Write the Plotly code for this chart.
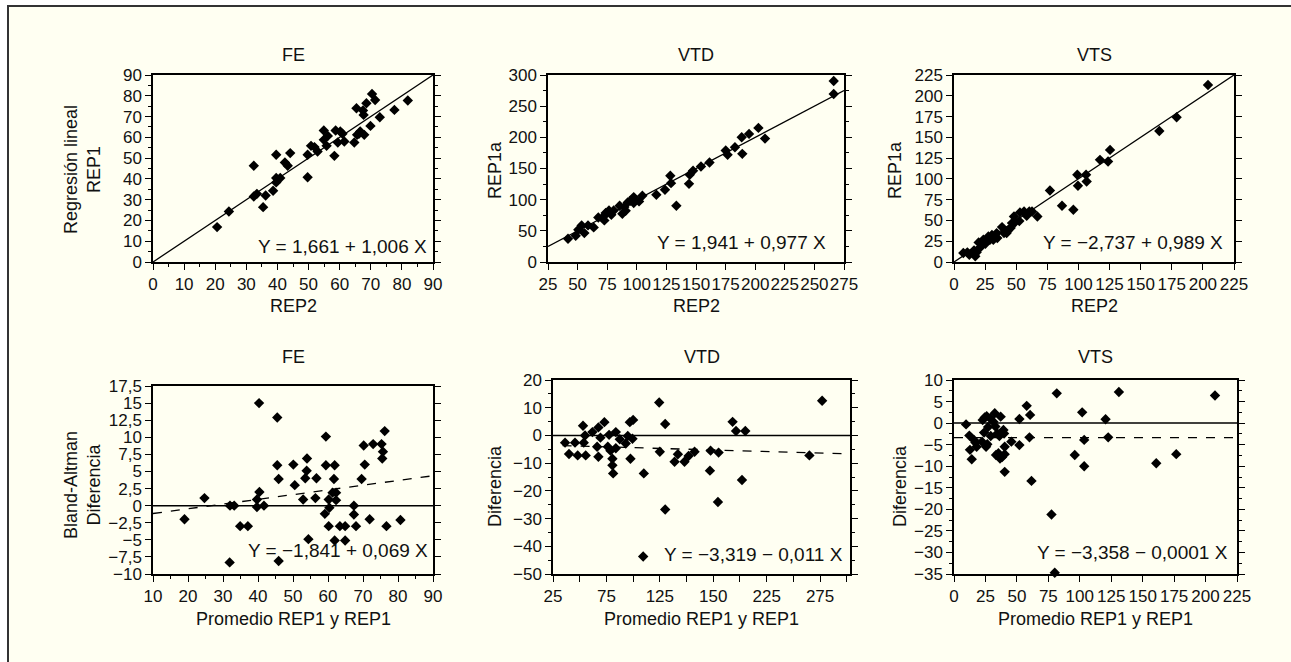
import plotly.graph_objects as go

# ---------------- DATA ----------------
# Top row: regression REP1 vs REP2
fe_rep2 = [20.6, 24.4, 32.4, 32.4, 33.4, 35.4, 36.2, 38.6, 39.6, 39.6, 39.6, 40.9, 42.4, 43.3, 44.1,
           49.7, 49.7, 50.8, 51.9, 52.9, 54.9, 54.9, 55.8, 56.2, 58.3, 58.7, 59.4, 60.2, 60.9, 61.5,
           64.7, 65.4, 65.6, 66.2, 66.6, 67.5, 67.7, 67.9, 68.6, 69.9, 70.4, 71.4, 72.9, 77.6, 81.9]
fe_rep1 = [16.8, 24.3, 31.5, 46.3, 32.8, 26.4, 32.0, 34.3, 51.6, 38.3, 40.4, 40.4, 47.9, 46.3, 52.4,
           40.8, 51.6, 55.9, 55.3, 53.2, 58.8, 63.3, 55.9, 60.7, 51.1, 63.3, 57.5, 62.8, 61.7, 58.0,
           57.5, 74.0, 61.2, 61.7, 62.8, 72.9, 70.8, 61.2, 76.4, 65.5, 80.9, 78.0, 69.7, 73.2, 77.7]

vtd_rep2 = [41.9, 48.4, 50.6, 53.4, 55.7, 58.8, 63.6, 67.5, 72.0, 72.6, 73.7, 76.5, 78.5, 80.5,
            85.5, 87.8, 89.5, 90.6, 92.3, 94.5, 97.4, 97.4, 101.9, 104.7, 116.5, 123.8, 128.3,
            128.9, 133.4, 144.1, 144.7, 147.5, 154.2, 161.4, 175.1, 176.7, 182.9, 188.6, 189.1,
            194.8, 202.7, 208.3, 266.3, 266.3]
vtd_rep1a = [37.4, 42.2, 51.8, 58.7, 46.4, 58.7, 55.5, 71.5, 73.1, 66.7, 78.5, 82.7, 75.8, 82.7,
             90.2, 77.4, 88.1, 82.2, 95.6, 98.2, 104.1, 94.5, 97.2, 106.2, 107.8, 115.8, 138.3,
             126.5, 90.2, 125.4, 139.9, 146.3, 153.2, 159.6, 178.8, 171.9, 184.2, 200.2, 173.5,
             205.5, 215.1, 198.0, 269.6, 290.4]

vts_rep2 = [7.5, 10.7, 12.3, 16.1, 17.1, 18.2, 19.8, 21.4, 23.6, 25.2, 27.6, 28.9, 30.5, 31.6,
            34.3, 34.8, 38.6, 40.2, 42.3, 43.4, 45.5, 46.6, 48.2, 49.0, 52.5, 53.0, 56.3, 58.4,
            60.5, 62.7, 67.0, 77.1, 86.8, 95.9, 99.1, 99.6, 106.1, 106.6, 117.3, 123.8, 125.4,
            165.0, 178.9, 204.1]
vts_rep1a = [10.8, 11.6, 8.8, 14.0, 6.8, 11.6, 23.6, 18.0, 26.8, 22.0, 30.8, 26.8, 32.4, 26.8,
             34.8, 28.8, 42.0, 34.8, 34.8, 38.0, 40.8, 46.8, 54.8, 47.6, 49.2, 59.7, 60.8, 55.6,
             60.8, 60.8, 54.8, 86.1, 67.7, 62.9, 104.9, 91.7, 104.9, 96.9, 122.9, 120.9, 134.9,
             157.7, 174.2, 213.0]

# Bottom row: Bland-Altman
fe_mean = [19.0, 24.7, 31.9, 32.0, 33.2, 34.9, 37.1, 39.7, 39.7, 40.3, 40.4, 41.7, 45.5, 45.5,
           45.9, 45.9, 50.1, 50.5, 52.9, 53.5, 53.9, 54.0, 54.4, 56.4, 56.7, 59.1, 59.4, 59.4,
           60.2, 60.2, 60.4, 61.3, 61.7, 61.9, 61.9, 62.3, 62.3, 63.4, 64.9, 64.9, 67.4, 67.4,
           68.0, 69.6, 70.2, 70.5, 71.9, 72.9, 75.3, 75.5, 75.7, 76.2, 76.7, 80.7]
fe_diff = [-2.0, 1.1, -8.3, 0.0, 0.0, -3.0, -3.0, 0.9, -0.2, 15.0, 2.0, 0.0, 12.9, 5.9,
           3.9, -8.1, 6.0, 3.0, 0.9, 4.0, 5.1, 6.9, -4.9, 1.1, 4.0, -1.2, 10.1, 5.9,
           -3.0, 0.9, -0.3, 1.9, 3.9, 5.9, -5.1, 1.9, 0.8, -3.0, -3.0, -5.1, 0.0, -1.3,
           -3.0, 3.9, 8.8, 6.0, -2.0, 9.0, 9.0, 6.9, 7.9, 10.9, -3.0, -2.1]

vtd_mean = [36.3, 40.0, 45.6, 48.1, 53.1, 53.8, 55.0, 55.6, 61.9, 66.3, 67.5, 67.5, 69.4, 73.1,
            76.3, 77.5, 78.8, 80.6, 80.6, 81.3, 83.8, 83.8, 87.5, 93.1, 95.0, 96.9, 97.5, 99.4,
            100.0, 110.0, 124.4, 125.0, 130.0, 130.0, 138.8, 141.9, 148.1, 151.9, 157.5, 171.9,
            172.5, 179.4, 180.0, 193.1, 196.3, 201.9, 205.0, 109.4, 265.0, 276.9]
vtd_diff = [-2.6, -6.7, -2.6, -7.2, 3.5, -2.6, 0.0, -7.2, 1.2, -4.1, 2.9, -7.7, -0.8, 4.8,
            -4.1, 0.2, -5.5, -8.4, -10.8, -13.7, 1.2, -4.6, -1.4, -2.9, -0.2, 4.8, -8.4, -1.2,
            5.6, -13.7, 11.9, -5.9, 4.1, -26.7, -9.5, -6.8, -9.5, -7.4, -5.9, -12.7,
            -5.5, -24.0, -6.2, 4.9, 1.6, -16.1, 1.6, -43.7, -7.2, 12.5]

vts_mean = [9.6, 12.2, 12.7, 14.1, 15.9, 17.0, 18.0, 22.3, 22.8, 23.9, 24.4, 25.5, 26.0, 26.5,
            27.1, 28.7, 29.2, 31.3, 32.4, 32.9, 33.4, 34.5, 35.3, 36.1, 36.6, 37.1, 38.2, 39.3,
            39.8, 40.3, 40.3, 40.3, 45.6, 52.0, 52.0, 57.8, 60.0, 60.5, 61.6, 77.5, 80.1, 81.7,
            96.0, 101.9, 103.5, 103.5, 120.5, 122.6, 131.1, 160.8, 176.7, 207.5]
vts_diff = [-0.3, -2.9, -6.2, -8.4, -3.9, -4.5, -5.5, -4.3, 0.7, -2.2, 1.3, -5.5, 1.6, -4.9,
            -0.9, 1.1, -3.0, 0.3, 2.3, -0.8, -7.4, -2.4, -7.0, -3.0, -8.2, 1.5, -7.9, -1.6,
            -2.4, -5.5, -7.2, -11.3, -4.3, 0.95, -5.1, 4.0, -3.3, 1.9, -13.4, -21.2, -34.7, 6.9,
            -7.4, 2.5, -3.9, -10.0, 0.9, -3.3, 7.2, -9.3, -7.2, 6.4]

# identity lines (top) and zero / regression lines (bottom)
fe_id = [0, 90]
vtd_id = [25, 275]
vts_id = [0, 225]
fe_ba_x = [10, 90]
vtd_ba_x = [34, 303]
vts_ba_x = [0, 225]
fe_ba_coef = (-1.841, 0.069)
vtd_ba_coef = (-3.319, -0.011)
vts_ba_coef = (-3.358, -0.0001)

equations = ["Y = 1,661 + 1,006 X", "Y = 1,941 + 0,977 X", "Y = \u22122,737 + 0,989 X",
             "Y = \u22121,841 + 0,069 X", "Y = \u22123,319 \u2212 0,011 X", "Y = \u22123,358 \u2212 0,0001 X"]
titles = ["FE", "VTD", "VTS", "FE", "VTD", "VTS"]

# ---------------- FIGURE ----------------
W, H = 1291, 662
FONT = "Liberation Sans, Arial, sans-serif"
TXT = "#111111"
FS = 17

def px_dom(a, b):
    return [a / W, b / W]

def py_dom(top, bottom):
    return [1 - bottom / H, 1 - top / H]

fig = go.Figure()

# plot boxes (pixel): left, right, top, bottom
boxes = [
    (153, 433, 75, 262),
    (548, 844, 75, 262),
    (954, 1234, 75, 262),
    (153, 433, 386, 574),
    (553, 850, 380, 574),
    (954, 1237, 380, 574),
]

marker = dict(symbol="diamond", size=8, color="black")

scatter_sets = [
    (fe_rep2, fe_rep1), (vtd_rep2, vtd_rep1a), (vts_rep2, vts_rep1a),
    (fe_mean, fe_diff), (vtd_mean, vtd_diff), (vts_mean, vts_diff),
]

for i, (xs, ys) in enumerate(scatter_sets):
    ax = "" if i == 0 else str(i + 1)
    fig.add_trace(go.Scatter(x=xs, y=ys, mode="markers", marker=marker,
                             xaxis="x" + ax, yaxis="y" + ax, showlegend=False,
                             cliponaxis=False))

# identity lines
for i, idl in enumerate([fe_id, vtd_id, vts_id]):
    ax = "" if i == 0 else str(i + 1)
    fig.add_trace(go.Scatter(x=idl, y=idl, mode="lines", line=dict(color="black", width=1.3),
                             xaxis="x" + ax, yaxis="y" + ax, showlegend=False))

# zero lines and dashed regression lines
for j, (bx, coef) in enumerate([(fe_ba_x, fe_ba_coef), (vtd_ba_x, vtd_ba_coef), (vts_ba_x, vts_ba_coef)]):
    ax = str(j + 4)
    rng_x = [[10, 90], [25, 303], [0, 225]][j]
    fig.add_trace(go.Scatter(x=rng_x, y=[0, 0], mode="lines", line=dict(color="black", width=1.5),
                             xaxis="x" + ax, yaxis="y" + ax, showlegend=False))
    fig.add_trace(go.Scatter(x=bx, y=[coef[0] + coef[1] * v for v in bx], mode="lines",
                             line=dict(color="black", width=1.3, dash="dash"),
                             xaxis="x" + ax, yaxis="y" + ax, showlegend=False))

axis_specs = [
    dict(xr=[0, 90], xd=10, xm=5, yr=[0, 90], yd=10, ym=5),
    dict(xr=[25, 275], xd=25, xm=None, yr=[0, 300], yd=50, ym=25),
    dict(xr=[0, 225], xd=25, xm=None, yr=[0, 225], yd=25, ym=None),
    dict(xr=[10, 90], xd=10, xm=5, yr=[-10, 17.5], yd=2.5, ym=None),
    dict(xr=[25, 303], xd=25, xm=None, yr=[-50, 20], yd=10, ym=5),
    dict(xr=[0, 225], xd=25, xm=None, yr=[-35, 10], yd=5, ym=2.5),
]

layout_axes = {}
for i, (spec, box) in enumerate(zip(axis_specs, boxes)):
    l, r, t, b = box
    xa = "xaxis" if i == 0 else "xaxis%d" % (i + 1)
    ya = "yaxis" if i == 0 else "yaxis%d" % (i + 1)
    anchor_x = "y" if i == 0 else "y%d" % (i + 1)
    anchor_y = "x" if i == 0 else "x%d" % (i + 1)
    common = dict(showgrid=False, zeroline=False, showline=True, linecolor="black", linewidth=1.5,
                  ticks="outside", ticklen=6, tickwidth=1.3, tickcolor="black", automargin=False,
                  tickangle=0, tickfont=dict(family=FONT, size=FS, color=TXT), fixedrange=True)
    xdict = dict(common, domain=px_dom(l, r), anchor=anchor_x, range=spec["xr"], dtick=spec["xd"],
                 tick0=spec["xr"][0], mirror=True, ticklabelstandoff=0)
    if spec["xm"]:
        xdict["minor"] = dict(dtick=spec["xm"], ticks="outside", ticklen=3, tickcolor="black", tickwidth=1.2)
    ydict = dict(common, domain=py_dom(t, b), anchor=anchor_y, range=spec["yr"], dtick=spec["yd"],
                 tick0=spec["yr"][0], mirror="ticks", ticklabelstandoff=0)
    if spec["ym"]:
        ydict["minor"] = dict(dtick=spec["ym"], ticks="outside", ticklen=3, tickcolor="black", tickwidth=1.2)
    layout_axes[xa] = xdict
    layout_axes[ya] = ydict

# VTD Bland-Altman x axis: labels as printed in the original (every 50, with "150" at 175)
vtd_ba_tickvals = [25, 50, 75, 100, 125, 150, 175, 200, 225, 250, 275, 300]
vtd_ba_ticktext = ["25", "", "75", "", "125", "", "150", "", "225", "", "275", ""]
layout_axes["xaxis5"].update(tickmode="array", tickvals=vtd_ba_tickvals, ticktext=vtd_ba_ticktext)

annotations = []
eq_pos = [(0.985, 0.015), (0.946, 0.035), (0.968, 0.035), (0.99, 0.06), (0.983, 0.035), (0.975, 0.045)]
for i, (eq, (ex, ey)) in enumerate(zip(equations, eq_pos)):
    ax = "" if i == 0 else str(i + 1)
    annotations.append(dict(text=eq, x=ex, y=ey, xref="x%s domain" % ax, yref="y%s domain" % ax,
                            xanchor="right", yanchor="bottom", showarrow=False,
                            font=dict(family=FONT, size=19, color=TXT)))

def ann(text, xp, yp, angle=0, size=18):
    annotations.append(dict(text=text, x=xp / W, y=1 - yp / H, xref="paper", yref="paper",
                            xanchor="center", yanchor="middle", showarrow=False, textangle=angle,
                            font=dict(family=FONT, size=size, color=TXT)))

# subplot titles
for i, (title, box) in enumerate(zip(titles, boxes)):
    l, r, t, b = box
    ann(title, (l + r) / 2, 55 if i < 3 else 357)

# x axis titles
for i, box in enumerate(boxes):
    l, r, t, b = box
    ann("REP2" if i < 3 else "Promedio REP1 y REP1", (l + r) / 2, 306 if i < 3 else 619)

# y axis titles
ann("Regresión lineal<br>REP1", 83, 170, -90)
ann("REP1a", 495, 170, -90)
ann("REP1a", 895, 170, -90)
ann("Bland-Altman<br>Diferencia", 83, 485, -90)
ann("Diferencia", 495, 486, -90)
ann("Diferencia", 900, 486, -90)

shapes = [dict(type="rect", xref="paper", yref="paper", x0=8 / W, x1=1.05, y0=-0.05, y1=1 - 6 / H,
               line=dict(color="#333333", width=2), fillcolor="#FFFFF2", layer="below")]

fig.update_layout(width=W, height=H, margin=dict(l=0, r=0, t=0, b=0), autosize=False,
                  paper_bgcolor="white", plot_bgcolor="rgba(0,0,0,0)",
                  separators=", ", showlegend=False, annotations=annotations, shapes=shapes,
                  font=dict(family=FONT, size=FS, color=TXT), **layout_axes)

fig.write_html("out.html", config={"displayModeBar": False},
               post_script="document.body.style.margin='0';document.body.style.overflow='hidden';")
